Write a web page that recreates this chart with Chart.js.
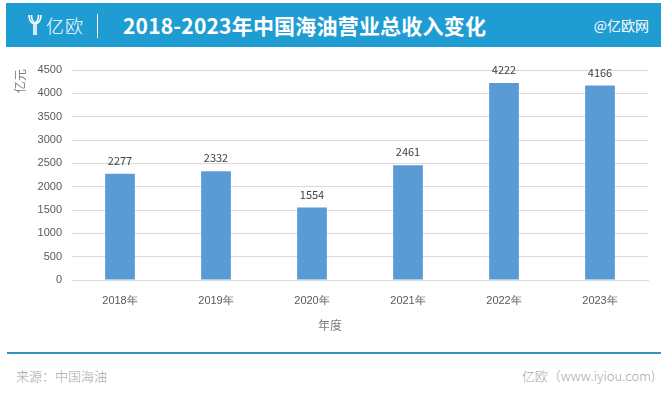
<!DOCTYPE html>
<html>
<head>
<meta charset="utf-8">
<script src="https://cdn.jsdelivr.net/npm/chart.js@4/dist/chart.umd.min.js"></script>
<style>
  body { margin: 0; width: 669px; height: 397px; background: #fff; font-family: "Noto Sans CJK SC", "Noto Sans", sans-serif; position: relative; overflow: hidden; }
  #banner { position: absolute; left: 6px; top: 3px; width: 655px; height: 44px; background: #1f9dd3; color: #fff; }
  #logoMark { position: absolute; left: 22px; top: 11px; }
  #logoText { position: absolute; left: 40px; top: 9px; font-size: 18px; font-weight: 300; letter-spacing: 1px; }
  #sep { position: absolute; left: 91px; top: 11px; width: 1px; height: 24px; background: #fff; }
  #title { position: absolute; left: 117px; top: 7px; font-size: 21px; font-weight: bold; letter-spacing: 0.2px; }
  #brand { position: absolute; right: 12px; top: 12px; font-size: 14px; }
  #chartBox { position: absolute; left: 0; top: 50px; width: 669px; height: 300px; }
  #rule { position: absolute; left: 7px; top: 352px; width: 654px; height: 2px; background: #3196bd; }
  #source { position: absolute; left: 16px; top: 366px; font-size: 13px; font-weight: 300; color: #a6a6a6; }
  #site { position: absolute; right: 14px; top: 366px; font-size: 13px; font-weight: 300; color: #a6a6a6; }
</style>
</head>
<body>
<div id="banner">
  <svg id="logoMark" width="14" height="22" viewBox="0 0 14 22">
    <path d="M1 1 Q1 8 6 10 L6 21 M13 1 Q13 8 8 10 L8 21 M3.5 1 Q3.5 7 7 9 Q10.5 7 10.5 1" stroke="#fff" stroke-width="1.6" fill="none"/>
  </svg>
  <div id="logoText">亿欧</div>
  <div id="sep"></div>
  <div id="title">2018-2023年中国海油营业总收入变化</div>
  <div id="brand">@亿欧网</div>
</div>
<div id="chartBox"><canvas id="chart"></canvas></div>
<div id="rule"></div>
<div id="source">来源：中国海油</div>
<div id="site">亿欧（www.iyiou.com)</div>
<script>
const years = ['2018年', '2019年', '2020年', '2021年', '2022年', '2023年'];
const revenue = [2277, 2332, 1554, 2461, 4222, 4166];
const yTitle = '亿元';
const xTitle = '年度';

// value labels above bars + axis titles placed like the original
const labelPlugin = {
  id: 'labels',
  afterDatasetsDraw(chart) {
    const ctx = chart.ctx;
    ctx.save();
    ctx.font = '11px "Noto Sans CJK SC", sans-serif';
    ctx.fillStyle = '#404040';
    ctx.textAlign = 'center';
    ctx.textBaseline = 'middle';
    chart.getDatasetMeta(0).data.forEach((bar, i) => {
      ctx.fillText(revenue[i], bar.x, bar.y - 13);
    });
    ctx.font = '12px "Noto Sans CJK SC", sans-serif';
    ctx.fillStyle = '#7f7f7f';
    ctx.fillText(xTitle, 330, 275);
    ctx.translate(20, 31);
    ctx.rotate(-Math.PI / 2);
    ctx.fillText(yTitle, 0, 0);
    ctx.restore();
  }
};

new Chart(document.getElementById('chart'), {
  type: 'bar',
  data: {
    labels: years,
    datasets: [{
      data: revenue,
      backgroundColor: '#5b9bd5',
      barPercentage: 0.62,
      categoryPercentage: 0.5
    }]
  },
  options: {
    responsive: true,
    maintainAspectRatio: false,
    animation: false,
    layout: { padding: { top: 20, right: 21, left: 0, bottom: 0 } },
    plugins: {
      legend: { display: false },
      tooltip: { enabled: false }
    },
    scales: {
      x: {
        grid: { display: false },
        border: { color: '#d9d9d9' },
        ticks: { color: '#595959', font: { size: 11 }, padding: 6 },
        afterFit(scale) { scale.height = 70; }
      },
      y: {
        min: 0,
        max: 4500,
        ticks: { stepSize: 500, color: '#595959', font: { size: 11 }, padding: 10,
                 callback: v => String(v) },
        grid: { color: '#d9d9d9', drawTicks: false },
        border: { display: false },
        afterFit(scale) { scale.width = 72; }
      }
    }
  },
  plugins: [labelPlugin]
});
</script>
</body>
</html>
